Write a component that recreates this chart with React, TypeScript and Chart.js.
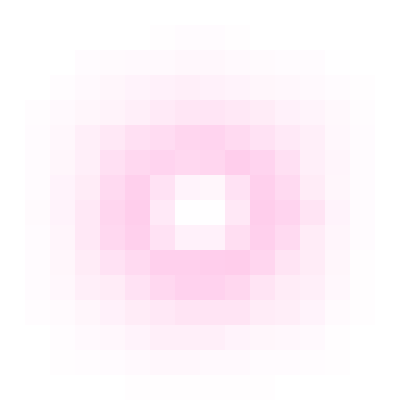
import { useEffect, useRef } from "react";
import { Chart, registerables } from "chart.js";

Chart.register(...registerables);

// 16 x 16 grid, row 0 at the top, values on a 0–10 scale
const columns = Array.from({ length: 16 }, (_, i) => `C${i + 1}`);

const row0 = [0, 0, 0, 0, 0, 0, 0, 0, 0, 0, 0, 0, 0, 0, 0, 0];
const row1 = [0, 0, 0, 0, 0, 0, 0.2, 0.5, 0.5, 0.2, 0, 0, 0, 0, 0, 0];
const row2 = [0, 0, 0, 0.5, 0.6, 0.8, 0.8, 1, 1, 0.8, 0.7, 0.5, 0.5, 0.1, 0, 0];
const row3 = [0, 0, 0.4, 0.8, 1.2, 1.5, 1.8, 2, 1.8, 1.5, 1.2, 1, 0.8, 0.5, 0.2, 0];
const row4 = [0, 0.4, 0.8, 1.2, 1.6, 2, 2.7, 3.2, 3.4, 3, 2.5, 1.8, 1.4, 0.9, 0.4, 0];
const row5 = [0, 0.5, 1, 2, 3, 4, 4.5, 5.3, 5.5, 4.8, 3.8, 2.8, 2, 1, 0.5, 0];
const row6 = [0, 0.5, 1.2, 2, 4, 5, 5.5, 5, 5.3, 6.3, 5.5, 4, 2, 1.3, 0.5, 0];
const row7 = [0, 0.5, 1.5, 2.5, 4.8, 6, 3.8, 1.5, 1.2, 3.8, 6, 4.8, 2.5, 1.2, 0.5, 0];
const row8 = [0, 0.6, 1.5, 3, 5.3, 6.3, 2.8, 0.1, 0.1, 3, 6.3, 5.5, 3.5, 1.5, 0.5, 0];
const row9 = [0, 0.5, 1.3, 3, 5, 6, 3.7, 1.8, 1.8, 4.2, 6, 4.8, 2.5, 1.3, 0.5, 0];
const row10 = [0, 0.5, 1.2, 2.5, 3.8, 4.8, 6, 6, 6.3, 6.5, 5.3, 3.5, 2.5, 1.2, 0.3, 0];
const row11 = [0, 0.5, 1, 2, 2.5, 3.8, 5, 5.8, 5.8, 5.2, 3.5, 2.5, 2, 1, 0.3, 0];
const row12 = [0, 0.4, 0.7, 1.2, 1.8, 2.5, 3, 3.5, 3.5, 3.5, 2.5, 2.2, 1.5, 0.7, 0.3, 0];
const row13 = [0, 0, 0.4, 0.8, 1, 1.5, 2, 2, 2, 1.5, 1.2, 1, 0.8, 0.3, 0, 0];
const row14 = [0, 0, 0.2, 0.4, 0.5, 0.8, 1, 1, 0.8, 0.8, 0.5, 0.5, 0.4, 0.2, 0, 0];
const row15 = [0, 0, 0, 0, 0, 0.2, 0.3, 0.3, 0.3, 0.3, 0.2, 0, 0, 0, 0, 0];

const rows = [row0, row1, row2, row3, row4, row5, row6, row7, row8, row9, row10, row11, row12, row13, row14, row15];

const cellColor = (v: number) => `rgba(255, 100, 195, ${((v / 10) * 0.5).toFixed(3)})`;

export default function App() {
  const ref = useRef<HTMLCanvasElement>(null);

  useEffect(() => {
    document.body.style.margin = "0";
    if (!ref.current) return;
    // stacked bars build from the bottom, so feed the bottom row first
    const bottomUp = [...rows].reverse();
    const chart = new Chart(ref.current, {
      type: "bar",
      data: {
        labels: columns,
        datasets: bottomUp.map((row, i) => ({
          label: `R${16 - i}`,
          data: row.map(() => 1),
          backgroundColor: row.map(cellColor),
          borderWidth: 0,
          inflateAmount: 0,
          barPercentage: 1,
          categoryPercentage: 1,
        })),
      },
      options: {
        responsive: false,
        animation: false,
        layout: { padding: 0 },
        plugins: { legend: { display: false }, tooltip: { enabled: false } },
        scales: {
          x: { stacked: true, display: false },
          y: { stacked: true, display: false, min: 0, max: 16 },
        },
      },
    });
    return () => chart.destroy();
  }, []);

  return (
    <div style={{ width: 400, height: 400, background: "#fff" }}>
      <canvas ref={ref} width={400} height={400} />
    </div>
  );
}
